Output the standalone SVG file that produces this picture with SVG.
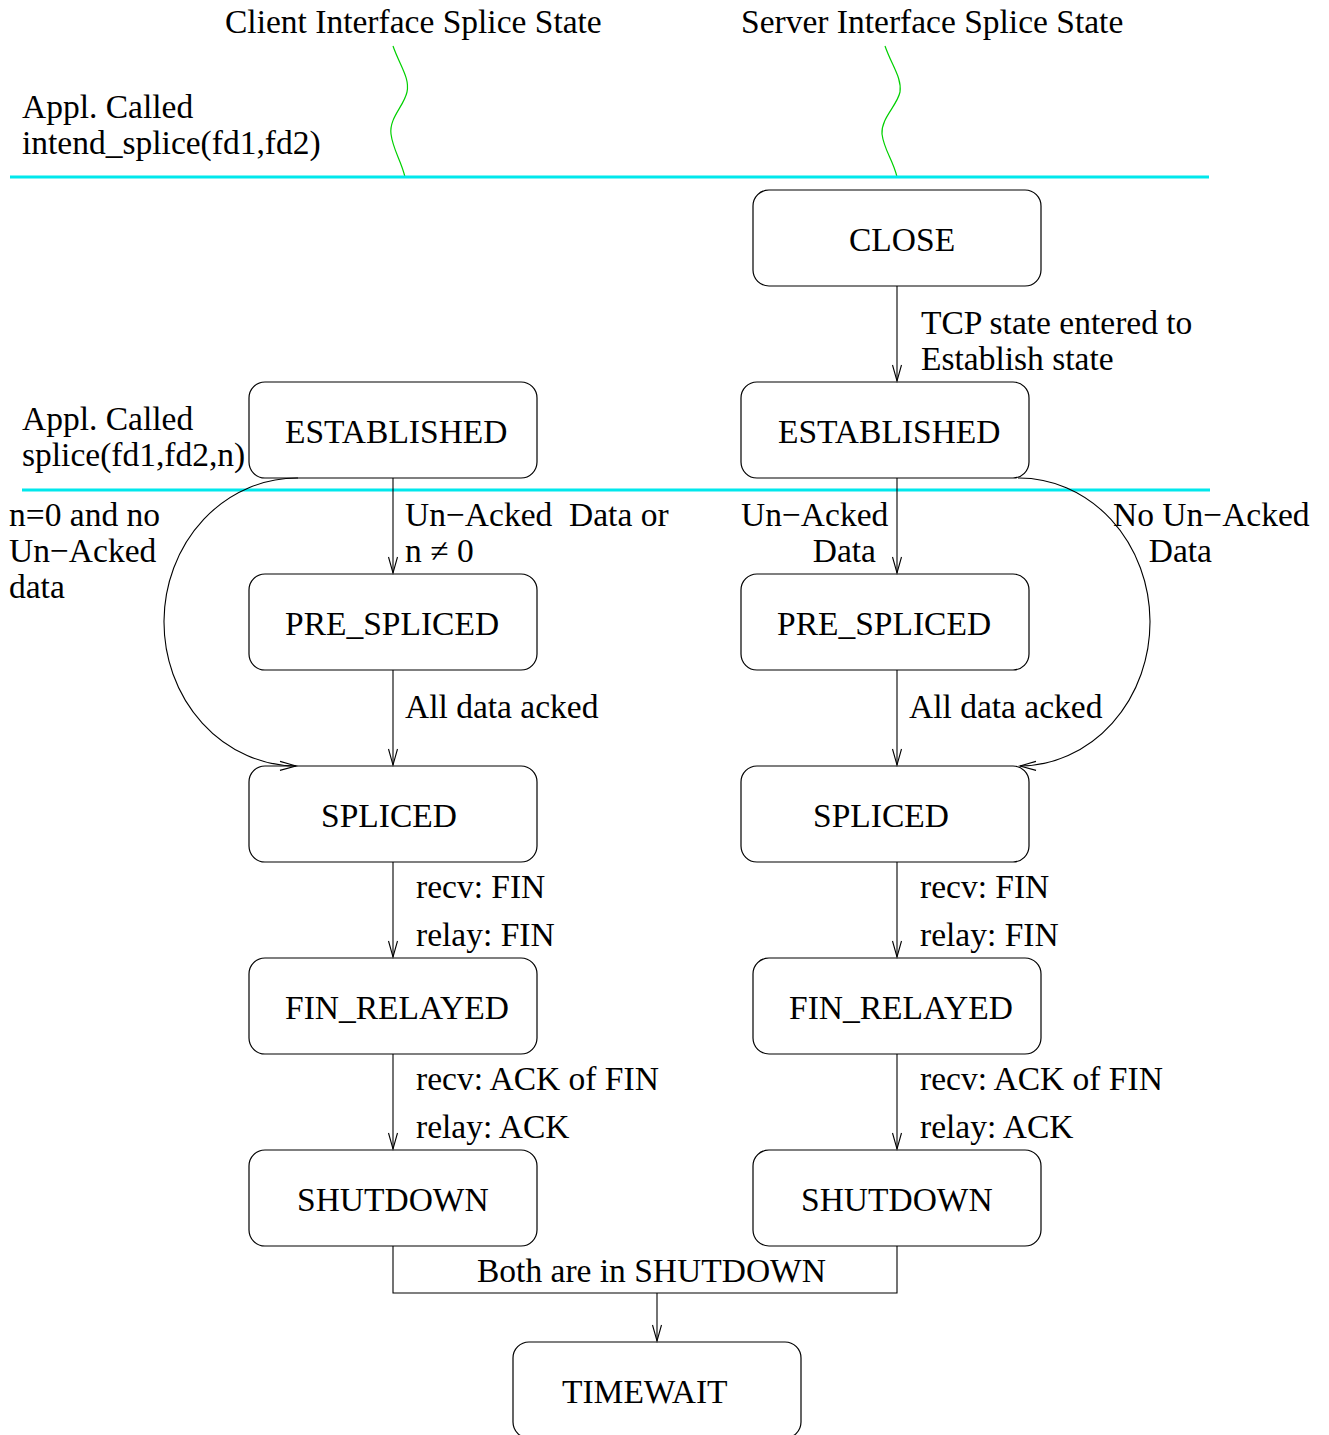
<svg xmlns="http://www.w3.org/2000/svg" width="1329" height="1435" viewBox="0 0 1329 1435">
  <style>
    text { font-family: "Liberation Serif", "Times New Roman", serif; font-size: 33.5px; fill: #000; }
    .state rect { fill: #fff; stroke: #000; stroke-width: 1.2; }
    .edge { fill: none; stroke: #000; stroke-width: 1.1; }
    .wave { fill: none; stroke: #00d000; stroke-width: 1.2; }
    .sep { stroke: #00e8ec; stroke-width: 3; }
  </style>
  <defs>
    <marker id="arrow" markerUnits="userSpaceOnUse" markerWidth="20" markerHeight="12" viewBox="0 0 20 12" refX="17" refY="6" orient="auto">
      <path d="M1,1.5 L17,6 L1,10.5" fill="none" stroke="#000" stroke-width="1.1"/>
    </marker>
  </defs>
  <rect width="1329" height="1435" fill="#fff"/>

  <!-- column headings and time lines -->
  <g id="headings">
    <text x="225" y="33">Client Interface Splice State</text>
    <text x="741" y="33">Server Interface Splice State</text>
    <path class="wave" d="M393,46 C400,66 410,78 407,92 C404,106 389,118 391,134 C393,150 401,160 405,177"/>
    <path class="wave" d="M885,46 C892,66 902,78 900,92 C897,106 881,118 882,134 C884,150 893,160 897,177"/>
  </g>

  <!-- separators between application calls -->
  <g id="separators">
    <line class="sep" x1="10" y1="177" x2="1209" y2="177"/>
    <line class="sep" x1="22" y1="490" x2="1210" y2="490"/>
  </g>

  <!-- side notes -->
  <g id="notes">
    <text x="22" y="118">Appl. Called</text>
    <text x="22" y="154">intend_splice(fd1,fd2)</text>
    <text x="22" y="430">Appl. Called</text>
    <text x="22" y="466">splice(fd1,fd2,n)</text>
  </g>

  <!-- client states -->
  <g id="client-established" class="state"><rect x="249" y="382" width="288" height="96" rx="16"/><text x="285" y="443">ESTABLISHED</text></g>
  <g id="client-pre-spliced" class="state"><rect x="249" y="574" width="288" height="96" rx="16"/><text x="285" y="635">PRE_SPLICED</text></g>
  <g id="client-spliced" class="state"><rect x="249" y="766" width="288" height="96" rx="16"/><text x="321" y="827">SPLICED</text></g>
  <g id="client-fin-relayed" class="state"><rect x="249" y="958" width="288" height="96" rx="16"/><text x="285" y="1019">FIN_RELAYED</text></g>
  <g id="client-shutdown" class="state"><rect x="249" y="1150" width="288" height="96" rx="16"/><text x="297" y="1211">SHUTDOWN</text></g>

  <!-- server states -->
  <g id="server-close" class="state"><rect x="753" y="190" width="288" height="96" rx="16"/><text x="849" y="251">CLOSE</text></g>
  <g id="server-established" class="state"><rect x="741" y="382" width="288" height="96" rx="16"/><text x="778" y="443">ESTABLISHED</text></g>
  <g id="server-pre-spliced" class="state"><rect x="741" y="574" width="288" height="96" rx="16"/><text x="777" y="635">PRE_SPLICED</text></g>
  <g id="server-spliced" class="state"><rect x="741" y="766" width="288" height="96" rx="16"/><text x="813" y="827">SPLICED</text></g>
  <g id="server-fin-relayed" class="state"><rect x="753" y="958" width="288" height="96" rx="16"/><text x="789" y="1019">FIN_RELAYED</text></g>
  <g id="server-shutdown" class="state"><rect x="753" y="1150" width="288" height="96" rx="16"/><text x="801" y="1211">SHUTDOWN</text></g>

  <!-- joint final state -->
  <g id="timewait" class="state"><rect x="513" y="1342" width="288" height="96" rx="16"/><text x="562" y="1403">TIMEWAIT</text></g>

  <!-- transitions -->
  <g id="connectors">
    <line class="edge" x1="897" y1="286" x2="897" y2="381" marker-end="url(#arrow)"/>
    <line class="edge" x1="393" y1="478" x2="393" y2="573" marker-end="url(#arrow)"/>
    <line class="edge" x1="897" y1="478" x2="897" y2="573" marker-end="url(#arrow)"/>
    <line class="edge" x1="393" y1="670" x2="393" y2="765" marker-end="url(#arrow)"/>
    <line class="edge" x1="897" y1="670" x2="897" y2="765" marker-end="url(#arrow)"/>
    <line class="edge" x1="393" y1="862" x2="393" y2="957" marker-end="url(#arrow)"/>
    <line class="edge" x1="897" y1="862" x2="897" y2="957" marker-end="url(#arrow)"/>
    <line class="edge" x1="393" y1="1054" x2="393" y2="1149" marker-end="url(#arrow)"/>
    <line class="edge" x1="897" y1="1054" x2="897" y2="1149" marker-end="url(#arrow)"/>
    <!-- bypass arcs: ESTABLISHED straight to SPLICED -->
    <path class="edge" d="M298,478 A133,144 0 0 0 296,766" marker-end="url(#arrow)"/>
    <path class="edge" d="M1018,478 A131,144 0 0 1 1020,766" marker-end="url(#arrow)"/>
    <!-- both SHUTDOWN states join into TIMEWAIT -->
    <polyline class="edge" points="393,1246 393,1293 897,1293 897,1246"/>
    <line class="edge" x1="657" y1="1293" x2="657" y2="1341" marker-end="url(#arrow)"/>
  </g>

  <!-- transition labels -->
  <g id="labels">
    <text x="921" y="334">TCP state entered to</text>
    <text x="921" y="370">Establish state</text>
    <text x="9" y="526">n=0 and no</text>
    <text x="9" y="562">Un−Acked</text>
    <text x="9" y="598">data</text>
    <text x="405" y="526" xml:space="preserve">Un−Acked  Data or</text>
    <text x="405" y="562">n ≠ 0</text>
    <text x="741" y="526">Un−Acked</text>
    <text x="876" y="562" text-anchor="end">Data</text>
    <text x="1113" y="526">No Un−Acked</text>
    <text x="1212" y="562" text-anchor="end">Data</text>
    <text x="405" y="718">All data acked</text>
    <text x="909" y="718">All data acked</text>
    <text x="416" y="898">recv: FIN</text>
    <text x="416" y="946">relay: FIN</text>
    <text x="920" y="898">recv: FIN</text>
    <text x="920" y="946">relay: FIN</text>
    <text x="416" y="1090">recv: ACK of FIN</text>
    <text x="416" y="1138">relay: ACK</text>
    <text x="920" y="1090">recv: ACK of FIN</text>
    <text x="920" y="1138">relay: ACK</text>
    <text x="477" y="1282">Both are in SHUTDOWN</text>
  </g>
</svg>
